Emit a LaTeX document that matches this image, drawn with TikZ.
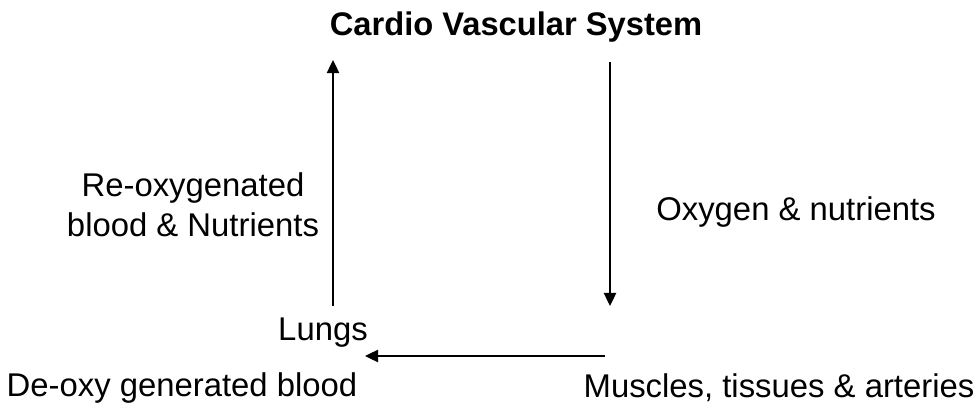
\documentclass[tikz,border=0pt]{standalone}
\usepackage{fontspec}
\setmainfont{Liberation Sans}
\usetikzlibrary{arrows.meta}
\begin{document}
\begin{tikzpicture}[x=0.02cm,y=-0.02cm,
  lbl/.style={inner sep=0pt,font=\fontsize{18.7}{22.8}\selectfont},
  ttl/.style={inner sep=0pt,font=\fontsize{18.6}{22}\selectfont\bfseries},
  flow/.style={line width=1.1pt,-{Triangle[width=7pt,length=7.5pt]}}]
\useasboundingbox (0,0) rectangle (977,409);
\node[ttl] (title) at (516,27) {Cardio Vascular System};
\node[lbl] (lungs) at (323,333) {Lungs};
\node[lbl] (deoxy) at (182,388) {De-oxy generated blood};
\node[lbl] (muscles) at (779,388) {Muscles, tissues \& arteries};
\node[lbl,align=center] (reoxy) at (193,205) {Re-oxygenated\\blood \& Nutrients};
\node[lbl] (oxy) at (796,212) {Oxygen \& nutrients};
\coordinate (upS) at (333,306);
\coordinate (upE) at (333,60);
\coordinate (dnS) at (610,62);
\coordinate (dnE) at (610,306);
\coordinate (lfS) at (605,356);
\coordinate (lfE) at (365,356);
\draw[flow] (upS) -- (upE);
\draw[flow] (dnS) -- (dnE);
\draw[flow] (lfS) -- (lfE);
\end{tikzpicture}
\end{document}
